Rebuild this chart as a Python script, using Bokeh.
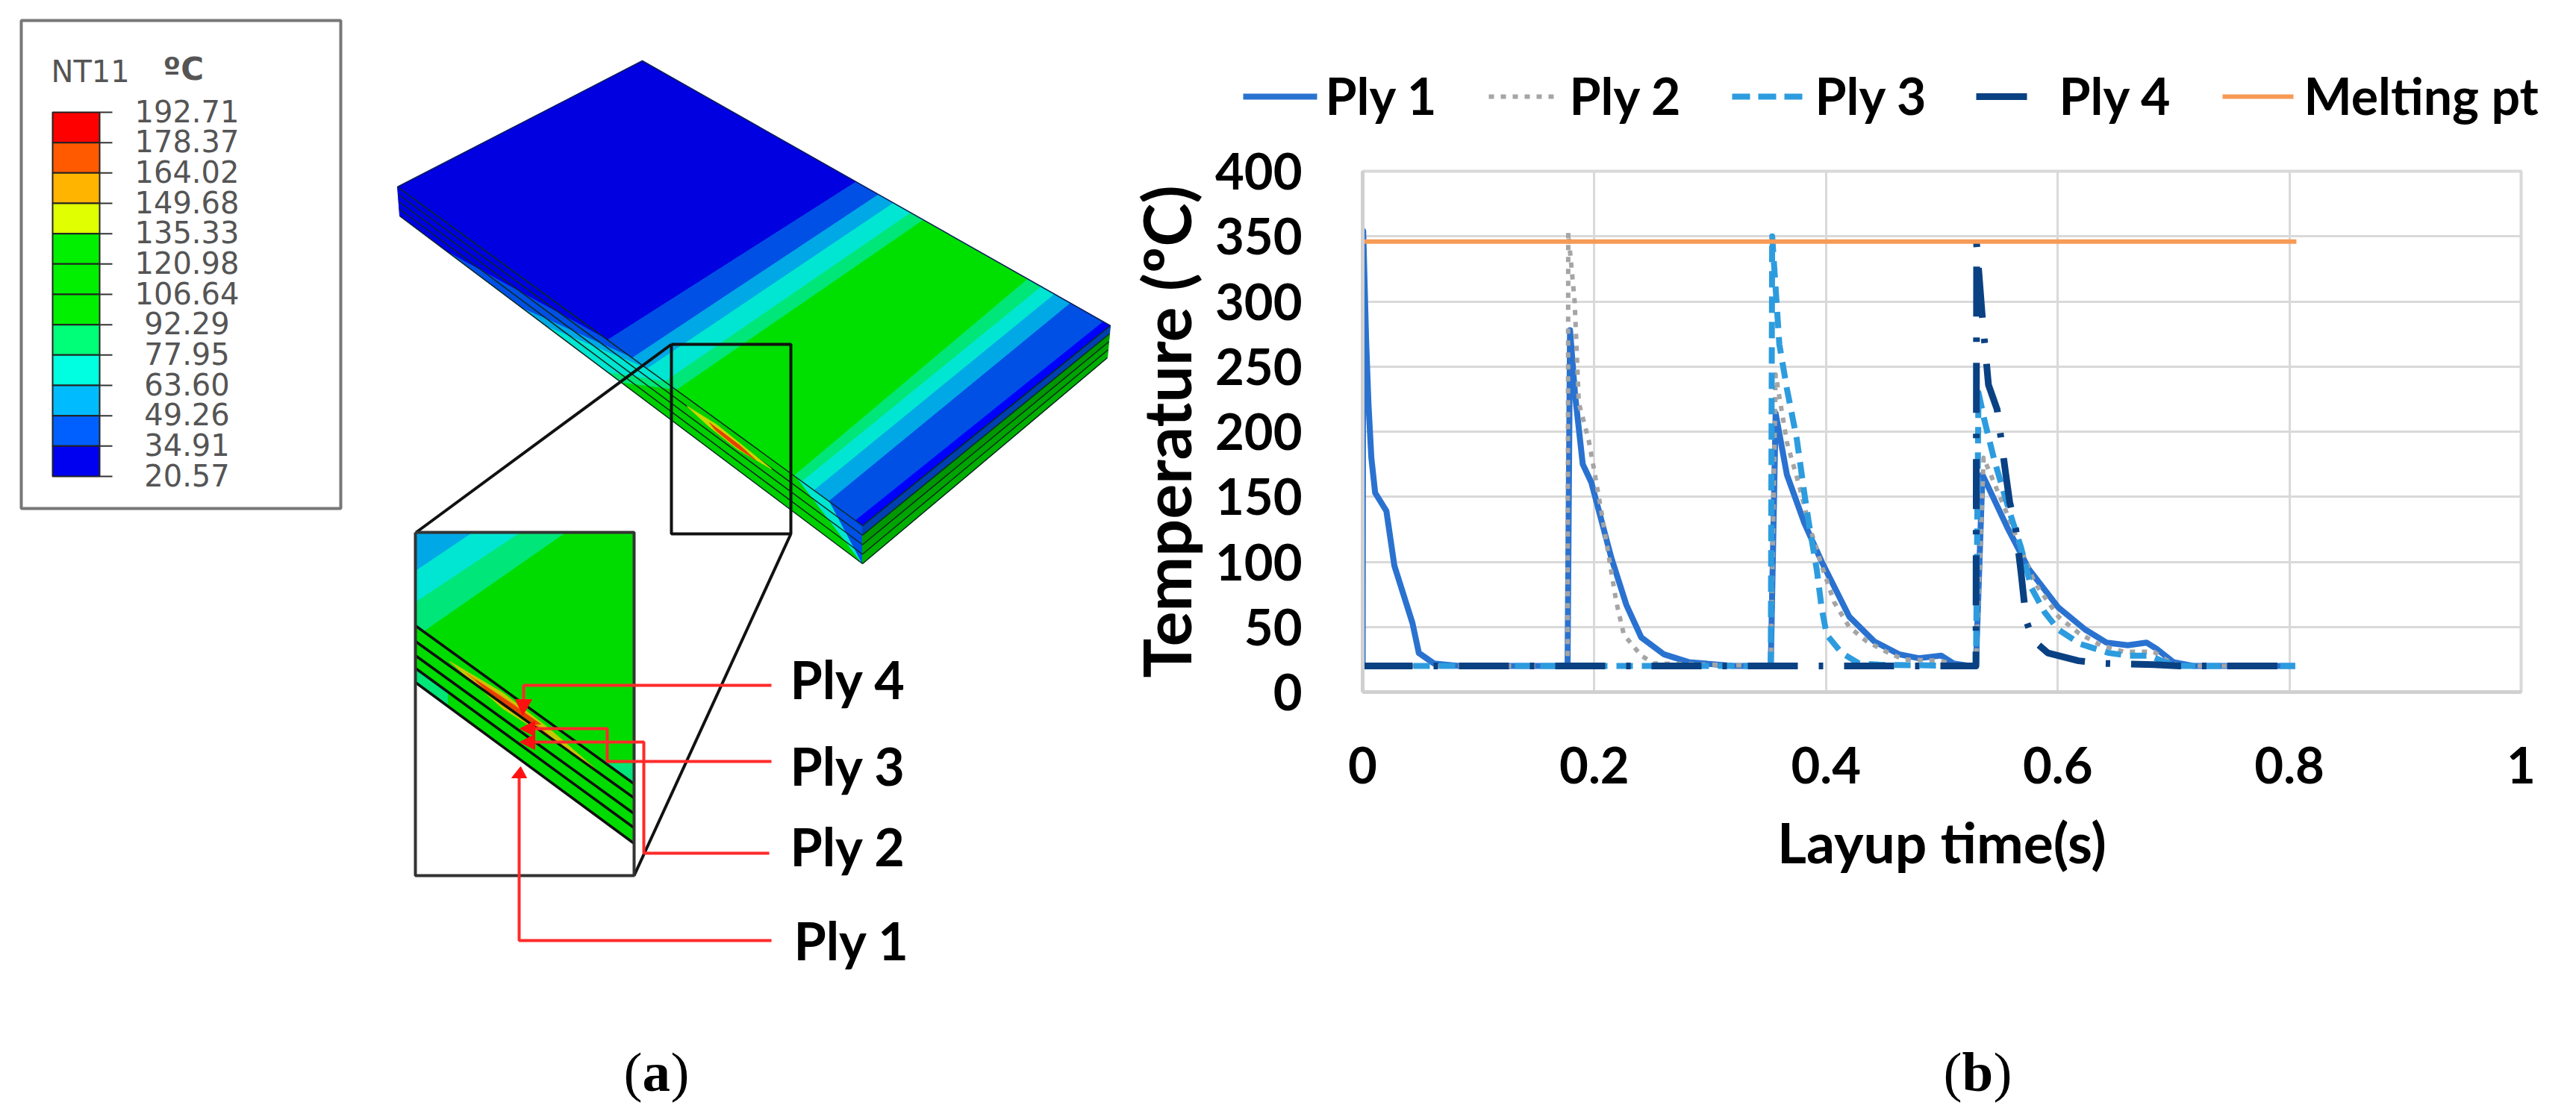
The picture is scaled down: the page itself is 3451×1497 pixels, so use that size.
from bokeh.core.properties import value
from bokeh.embed import file_html
from bokeh.layouts import row
from bokeh.models import FixedTicker
from bokeh.plotting import figure
from bokeh.resources import INLINE

# panel (b), temperature history per ply
ply1_t = [0, 0.0005, 0.003, 0.005, 0.0075, 0.0108, 0.0205, 0.0274, 0.043, 0.0485, 0.0615, 0.083, 0.1769,
          0.1769, 0.179, 0.1834, 0.19, 0.1974, 0.2147, 0.2276, 0.2405, 0.26, 0.2815, 0.32, 0.3523,
          0.3523, 0.3565, 0.3662, 0.3812, 0.3963, 0.42, 0.4415, 0.463, 0.48, 0.4994, 0.51, 0.525, 0.5294,
          0.5294, 0.535, 0.5567, 0.5754, 0.6005, 0.6237, 0.642, 0.6605, 0.6766, 0.6856, 0.6998, 0.7178, 0.805]
ply1_temp = [20, 354, 270, 222, 180, 153, 139, 97, 53, 30, 22, 20, 20,
             20, 278, 228, 175, 161, 103, 67, 42, 29, 23, 20, 20,
             20, 214, 167, 130, 100, 58, 39, 29, 26, 28, 22, 20, 20,
             20, 167, 126, 94, 65, 48, 38, 36, 38, 33, 23, 20, 20]

ply2_t = [0, 0.1769, 0.1775, 0.183, 0.1866, 0.195, 0.1995, 0.206, 0.2147, 0.219, 0.2255, 0.2405, 0.2513, 0.3523,
          0.3523, 0.3565, 0.3662, 0.377, 0.3855, 0.3963, 0.407, 0.42, 0.435, 0.452, 0.467, 0.4994, 0.51, 0.5294,
          0.5294, 0.536, 0.5567, 0.58, 0.6005, 0.6185, 0.637, 0.657, 0.683, 0.693, 0.705, 0.805]
ply2_temp = [20, 20, 353, 300, 222, 194, 172, 139, 92, 69, 44, 28, 22, 20,
             20, 244, 192, 158, 128, 97, 69, 50, 39, 31, 25, 24, 21, 20,
             20, 180, 136, 84, 58, 45, 36, 31, 31, 25, 20, 20]

ply3_t = [0, 0.3523, 0.3535, 0.3597, 0.3662, 0.3748, 0.3812, 0.3855, 0.392, 0.3963, 0.4006, 0.4135, 0.4285, 0.4457, 0.5294,
          0.5294, 0.5316, 0.5369, 0.5453, 0.5522, 0.5593, 0.5683, 0.5773, 0.5889, 0.6005, 0.6192, 0.6443, 0.6605, 0.679, 0.69, 0.7025, 0.805]
ply3_temp = [20, 20, 350, 267, 233, 194, 153, 128, 94, 64, 44, 30, 22, 21, 20,
             20, 230, 208, 178, 157, 136, 111, 80, 61, 48, 37, 30, 28, 28, 24, 20, 20]

ply4_t = [0, 0.5294, 0.53, 0.5348, 0.5402, 0.5477, 0.5552, 0.5585, 0.5638, 0.5683, 0.5728, 0.5786, 0.5915, 0.618, 0.64, 0.683, 0.705, 0.805]
ply4_temp = [20, 20, 344, 289, 236, 217, 167, 146, 125, 92, 55, 40, 30, 24, 22, 21, 20, 20]

melting_t = [0, 0.806]
melting_temp = [346, 346]

x_ticks = [0, 0.2, 0.4, 0.6, 0.8, 1]
x_labels = ["0", "0.2", "0.4", "0.6", "0.8", "1"]
y_ticks = [0, 50, 100, 150, 200, 250, 300, 350, 400]

series_names = ["Ply 1", "Ply 2", "Ply 3", "Ply 4", "Melting pt"]
series_colors = ["#2A72D0", "#A5A5A5", "#2D9CDF", "#0A4183", "#F79A55"]
series_widths = [8, 6, 8, 9, 6]
series_dashes = ["solid", [7, 9], [22, 12], [67, 28, 6, 28], "solid"]

# legend keys and labels of panel (b), in page pixels
key_left = [1665, 1994, 2320, 2647, 2977]
key_right = [1764, 2089, 2416, 2715, 3072]
key_dashes = ["solid", [7, 9], [24, 11], "solid", "solid"]
name_left = [1775, 2102, 2431, 2758, 3086]

# panel (a), contour legend
nt_values = ["192.71", "178.37", "164.02", "149.68", "135.33", "120.98", "106.64",
             "92.29", "77.95", "63.60", "49.26", "34.91", "20.57"]
nt_colors = ["#FF0000", "#FF5A00", "#FFB400", "#E0FF00", "#00F000", "#00F000", "#00F000",
             "#00FF78", "#00FFE0", "#00BCFF", "#0060FF", "#0000F0"]

# panel (a), plate outline in page pixels
corner_a = (860, 81)
corner_b = (532, 250)
corner_c = (1155, 704)
corner_d = (1487, 436)
corner_b2 = (535, 289)
corner_c2 = (1155, 755)
corner_d2 = (1483, 479)

DARK, MID, LIGHT, CYAN, SEA, GREEN = "#0000E0", "#0050E6", "#00A8E6", "#00E6D2", "#00E678", "#00E000"
face_far_stops = [0, 0.457, 0.505, 0.537, 0.574, 0.601, 0.824, 0.853, 0.881, 0.915, 0.985, 1]
face_near_stops = [0, 0.452, 0.505, 0.537, 0.575, 0.60, 0.853, 0.87, 0.896, 0.928, 0.985, 1]
face_colors = [DARK, MID, LIGHT, CYAN, SEA, GREEN, SEA, CYAN, LIGHT, MID, "#0000FF"]

side_top_stops = [0, 0.452, 0.505, 0.537, 0.575, 0.60, 0.86, 0.93, 1]
side_bottom_stops = [0, 0.105, 0.267, 0.32, 0.45, 0.48, 1, 1, 1]
side_colors = [DARK, MID, LIGHT, CYAN, SEA, "#00D000", CYAN, MID]
right_ply_colors = ["#0040B0", "#009800", "#00A400", "#00B000"]

inset_left_y = [838, 859, 878, 895, 914]
inset_right_y = [1050, 1069, 1090, 1109, 1130]

leader_ply4 = ([1033, 701, 701], [918, 918, 941])
leader_ply3 = ([1033, 813, 813, 716], [1020, 1020, 976, 976])
leader_ply2 = ([1030, 862, 862, 716], [1143, 1143, 994, 994])
leader_ply1 = ([1033, 695, 695], [1260, 1260, 1042])
ply_labels = ["Ply 4", "Ply 3", "Ply 2", "Ply 1"]
ply_label_x = [1058, 1058, 1058, 1063]
ply_label_y = [909, 1025, 1133, 1259]


def lerp(p, q, f):
    return p[0] + (q[0] - p[0]) * f, p[1] + (q[1] - p[1]) * f


def poly(fig, pts, color):
    fig.patch([q[0] for q in pts], [q[1] for q in pts], fill_color=color, line_color=color, line_width=1)


def label(fig, x, y, text, size, font="Lato", style="bold", color="black", align="left"):
    fig.text([x], [y], text=[text], text_font=value(font), text_font_style=style, text_font_size=size,
             text_color=color, text_align=align, text_baseline="middle", level="overlay")


# left panel: one data unit is one page pixel
left = figure(width=1500, height=1496, x_range=(0, 1500), y_range=(1496, 0), x_axis_type=None, y_axis_type=None,
              tools="", toolbar_location=None, output_backend="svg", min_border=0)
left.outline_line_color = None
left.frame_align = False

# legend box
left.quad(left=28, right=456, top=27, bottom=681, fill_color="white", line_color="#777777", line_width=4)
label(left, 68, 95, "NT11", "40px", font="DejaVu Sans", style="normal", color="#555555")
label(left, 218, 92, "ºC", "42px", font="DejaVu Sans", color="#555555")
cell = (638 - 150) / len(nt_colors)
for i, c in enumerate(nt_colors):
    left.quad(left=70, right=133, top=150 + i * cell, bottom=150 + (i + 1) * cell, fill_color=c,
              line_color="#222222", line_width=2)
for i, v in enumerate(nt_values):
    y = 150 + i * cell
    left.line([133, 150], [y, y], line_color="#333333", line_width=2)
    label(left, 250, y - 2, v, "40px", font="DejaVu Sans", style="normal", color="#555555", align="center")

# plate, top face
for i, c in enumerate(face_colors):
    poly(left, [lerp(corner_a, corner_d, face_far_stops[i]), lerp(corner_a, corner_d, face_far_stops[i + 1]),
                lerp(corner_b, corner_c, face_near_stops[i + 1]), lerp(corner_b, corner_c, face_near_stops[i])], c)
# plate, long side
for i, c in enumerate(side_colors):
    poly(left, [lerp(corner_b, corner_c, side_top_stops[i]), lerp(corner_b, corner_c, side_top_stops[i + 1]),
                lerp(corner_b2, corner_c2, side_bottom_stops[i + 1]), lerp(corner_b2, corner_c2, side_bottom_stops[i])], c)
# plate, short side
for i, c in enumerate(right_ply_colors):
    poly(left, [lerp(corner_c, corner_c2, i / 4), lerp(corner_d, corner_d2, i / 4),
                lerp(corner_d, corner_d2, (i + 1) / 4), lerp(corner_c, corner_c2, (i + 1) / 4)], c)
for i in range(5):
    p0, p1, p2 = lerp(corner_b, corner_b2, i / 4), lerp(corner_c, corner_c2, i / 4), lerp(corner_d, corner_d2, i / 4)
    left.line([p0[0], p1[0], p2[0]], [p0[1], p1[1], p2[1]], line_color="#0A2A20", line_width=1.5)
left.line([corner_b[0], corner_a[0], corner_d[0]], [corner_b[1], corner_a[1], corner_d[1]], line_color="#10205A", line_width=1.5)

# hot streak on the plate
poly(left, [(920, 544), (960, 569), (1033, 628), (987, 601), (947, 569)], "#C8D800")
poly(left, [(950, 566), (990, 596), (1012, 616), (985, 598), (958, 576)], "#E84000")

# zoom frame and connecting lines
left.line([899, 1059, 1059, 899, 899], [461, 461, 715, 715, 461], line_color="#111111", line_width=4)
left.line([899, 557], [461, 713], line_color="#111111", line_width=4)
left.line([1059, 849], [715, 1173], line_color="#111111", line_width=4)

# inset
poly(left, [(556, 713), (849, 713), (849, 1130), (556, 914)], "#00DC00")
poly(left, [(556, 713), (757, 713), (566, 846), (556, 838)], SEA)
poly(left, [(556, 713), (696, 713), (556, 806)], CYAN)
poly(left, [(556, 713), (632, 713), (556, 764)], LIGHT)
poly(left, [(811, 1023), (849, 1023), (849, 1050)], SEA)
poly(left, [(556, 895), (556, 914), (599, 946), (599, 927)], SEA)
poly(left, [(602, 886), (673, 928), (734, 975), (811, 1042), (744, 994), (673, 949)], "#C8C800")
poly(left, [(625, 902), (690, 945), (735, 985), (672, 945)], "#F08000")
poly(left, [(637, 911), (688, 945), (724, 970), (714, 970), (668, 941)], "#E84000")
for yl, yr in zip(inset_left_y, inset_right_y):
    left.line([556, 849], [yl, yr], line_color="#101010", line_width=3.5)
left.line([556, 849, 849, 556, 556], [713, 713, 1173, 1173, 713], line_color="#333333", line_width=4)

# red leaders
for xs, ys in (leader_ply4, leader_ply3, leader_ply2, leader_ply1):
    left.line(xs, ys, line_color="#FF2A2A", line_width=4)
poly(left, [(690, 937), (712, 937), (700, 958)], "#FF1010")
poly(left, [(716, 966), (716, 986), (696, 976)], "#FF1010")
poly(left, [(716, 984), (716, 1004), (696, 994)], "#FF1010")
poly(left, [(685, 1042), (705, 1042), (697, 1027)], "#FF1010")
for t, x, y in zip(ply_labels, ply_label_x, ply_label_y):
    label(left, x, y, t, "70px")

# captions
label(left, 835, 1436, "(", "75px", font="Liberation Serif", style="normal")
label(left, 860, 1436, "a", "75px", font="Liberation Serif")
label(left, 898, 1436, ")", "75px", font="Liberation Serif", style="normal")

# right panel
p = figure(width=1940, height=1496, x_range=(0, 1), y_range=(0, 400), tools="", toolbar_location=None,
           output_backend="svg", min_border_left=325, min_border_right=63, min_border_top=229, min_border_bottom=569)
p.frame_align = False

for xs, ys, c, w, d in zip((ply1_t, ply2_t, ply3_t, ply4_t, melting_t),
                           (ply1_temp, ply2_temp, ply3_temp, ply4_temp, melting_temp),
                           series_colors, series_widths, series_dashes):
    p.line(xs, ys, line_color=c, line_width=w, line_dash=d, line_join="round")

p.xaxis.ticker = FixedTicker(ticks=x_ticks)
p.xaxis.major_label_overrides = dict(zip(x_ticks, x_labels))
p.yaxis.ticker = FixedTicker(ticks=y_ticks)
p.xaxis.axis_label = "Layup time(s)"
p.yaxis.axis_label = "Temperature (ºC)"
p.axis.major_tick_line_color = None
p.axis.minor_tick_line_color = None
p.axis.axis_line_color = "#D0D0D0"
p.axis.axis_line_width = 5
p.axis.major_label_text_font = "Lato"
p.axis.major_label_text_font_style = "bold"
p.axis.major_label_text_font_size = "67px"
p.axis.major_label_text_color = "black"
p.axis.axis_label_text_font = "Lato"
p.axis.axis_label_text_font_style = "bold"
p.axis.axis_label_text_color = "black"
p.xaxis.axis_label_text_font_size = "75px"
p.yaxis.axis_label_text_font_size = "88px"
p.xaxis.major_label_standoff = 67
p.yaxis.major_label_standoff = 75
p.xaxis.axis_label_standoff = 30
p.yaxis.axis_label_standoff = 10
p.grid.grid_line_color = "#D9D9D9"
p.grid.grid_line_width = 3
p.outline_line_color = "#D9D9D9"
p.outline_line_width = 4


def to_x(px):
    return (px - 1825) / 1552


def to_y(py):
    return (927 - py) * 400 / 698


# legend of this panel: Bokeh's Legend disappears outside the frame here, so keys and names are overlay glyphs
for name, x0, x1, tx, c, w, d in zip(series_names, key_left, key_right, name_left, series_colors, series_widths, key_dashes):
    p.line([to_x(x0), to_x(x1)], [to_y(129), to_y(129)], line_color=c, line_width=w, line_dash=d, level="overlay")
    label(p, to_x(tx), to_y(127), name, "68px")

# caption of this panel
label(p, to_x(2603), to_y(1436), "(", "75px", font="Liberation Serif", style="normal")
label(p, to_x(2628), to_y(1436), "b", "75px", font="Liberation Serif")
label(p, to_x(2670), to_y(1436), ")", "75px", font="Liberation Serif", style="normal")

layout = row(left, p, spacing=0)
open("out.html", "w").write(file_html(layout, INLINE))
